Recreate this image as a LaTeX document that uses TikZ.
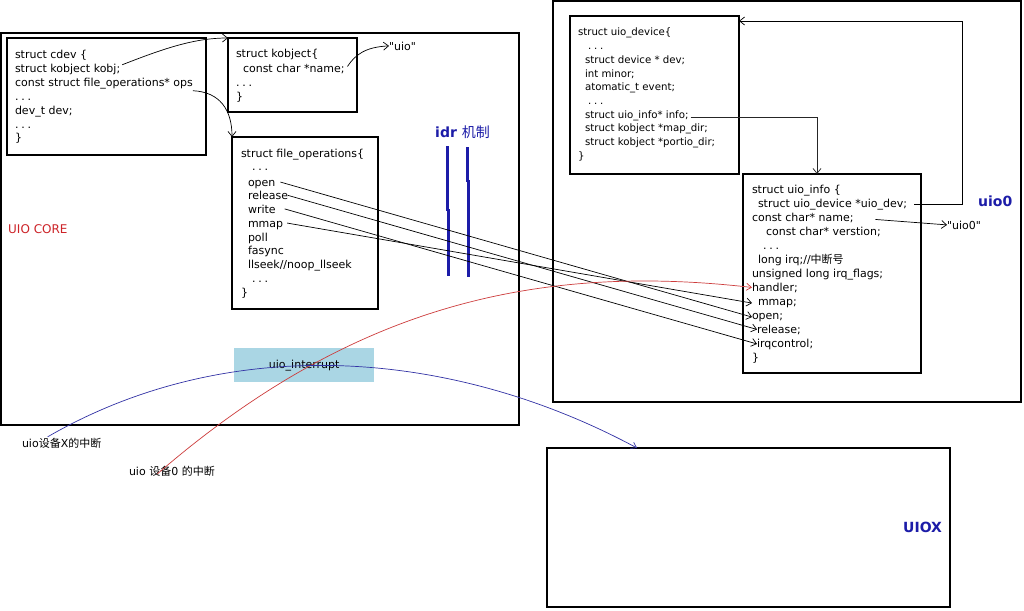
\documentclass[tikz,border=0pt]{standalone}
\usepackage{fontspec}
\setmainfont{DejaVu Sans}[Ligatures=TeXOff]
\newfontfamily\cjk{Noto Sans CJK SC}
\usetikzlibrary{arrows.meta}
\definecolor{idrblue}{RGB}{28,28,168}
\definecolor{corered}{RGB}{205,35,40}
\definecolor{intblue}{RGB}{170,214,228}
\definecolor{redline}{RGB}{205,60,60}
\definecolor{blueline}{RGB}{50,50,165}
\newcommand\mydots{.\hspace{2.8pt}.\hspace{2.8pt}.}
\begin{document}
\begin{tikzpicture}[x=1pt,y=-1pt,
  box/.style={draw, line width=1.8pt, anchor=north west, inner sep=0pt, outer sep=0pt},
  tl/.style={anchor=base west, inner sep=0pt, outer sep=0pt, font=\fontsize{11}{13}\selectfont},
  ts/.style={tl, font=\fontsize{10.2}{12}\selectfont},
  conn/.style={line width=0.7pt, -{Straight Barb[length=5pt,width=8pt]}},
  lbl/.style={anchor=base west, inner sep=0pt, font=\fontsize{14}{16}\selectfont\bfseries, text=idrblue}]

\fill[white] (0,0) rectangle (1024,610);
\useasboundingbox (0,0) rectangle (1024,610);

% ---------- boxes ----------
\node[box, minimum width=518pt, minimum height=392pt] (core) at (1,33) {};
\node[box, minimum width=199pt, minimum height=117pt] (cdev) at (7,38) {};
\node[box, minimum width=129pt, minimum height=74pt] (kob) at (228,38) {};
\node[box, minimum width=146pt, minimum height=172pt] (fo) at (232,137) {};
\node[fill=intblue, anchor=north west, inner sep=0pt, minimum width=140pt, minimum height=34pt,
      font=\fontsize{11}{13}\selectfont] (uint) at (234,348) {uio\_interrupt};
\node[box, minimum width=468pt, minimum height=401pt] (uiobox) at (553,1) {};
\node[box, minimum width=169pt, minimum height=158pt] (dev) at (570,16) {};
\node[box, minimum width=178pt, minimum height=199pt] (ui) at (743,174) {};
\node[box, minimum width=403pt, minimum height=159pt] (uiox) at (547,448) {};

% ---------- cdev ----------
\node[tl] (c1) at (15,59) {struct cdev \{};
\node[tl] (c2) at (15,72.8) {struct kobject kobj;};
\node[tl] (c3) at (15,86.6) {const struct file\_operations* ops};
\node[tl] (c4) at (15,100.4) {\mydots};
\node[tl] (c5) at (15,114.2) {dev\_t dev;};
\node[tl] (c6) at (15,128) {\mydots};
\node[tl] (c7) at (15,141.8) {\}};

% ---------- kobject ----------
\node[tl] (k1) at (236,58) {struct kobject\{};
\node[tl] (k2) at (243,72) {const char *name;};
\node[tl] (k3) at (236,86) {\mydots};
\node[tl] (k4) at (236,100) {\}};
\node[tl] (uiostr) at (389,50) {"uio"};

% ---------- file_operations ----------
\node[tl] (f1) at (241,157) {struct file\_operations\{};
\node[tl] (f2) at (252,170) {\mydots};
\node[tl] (f3) at (248,186) {open};
\node[tl] (f4) at (248,199.5) {release};
\node[tl] (f5) at (248,213) {write};
\node[tl] (f6) at (248,227) {mmap};
\node[tl] (f7) at (248,241) {poll};
\node[tl] (f8) at (248,254.5) {fasync};
\node[tl] (f9) at (248,268) {llseek//noop\_llseek};
\node[tl] (f10) at (252,282) {\mydots};
\node[tl] (f11) at (241,296) {\}};

% ---------- labels ----------
\node[lbl] (idr) at (435,137) {idr {\cjk\mdseries 机制}};
\node[anchor=base west, inner sep=0pt, font=\fontsize{12}{14}\selectfont, text=corered] (corelbl) at (8,233.5) {UIO CORE};
\node[lbl] (uio0lbl) at (978,206) {uio0};
\node[lbl] (uioxlbl) at (903,532) {UIOX};
\node[tl] (labX) at (22,447.5) {uio{\cjk 设备}X{\cjk 的中断}};
\node[tl] (lab0) at (129,475) {uio {\cjk 设备}0 {\cjk 的中断}};

% ---------- uio_device ----------
\node[ts] (d1) at (578,36) {struct uio\_device\{};
\node[ts] (d2) at (588,49.7) {\mydots};
\node[ts] (d3) at (585,63.4) {struct device * dev;};
\node[ts] (d4) at (585,77.1) {int minor;};
\node[ts] (d5) at (585,90.8) {atomatic\_t event;};
\node[ts] (d6) at (588,104.5) {\mydots};
\node[ts] (d7) at (585,118.2) {struct uio\_info* info;};
\node[ts] (d8) at (585,131.9) {struct kobject *map\_dir;};
\node[ts] (d9) at (585,145.6) {struct kobject *portio\_dir;};
\node[ts] (d10) at (578,159.3) {\}};

% ---------- uio_info ----------
\node[tl] (i1) at (752,193) {struct uio\_info \{};
\node[tl] (i2) at (758,207) {struct uio\_device *uio\_dev;};
\node[tl] (i3) at (752,221) {const char* name;};
\node[tl] (i4) at (766,235) {const char* verstion;};
\node[tl] (i5) at (763,249) {\mydots};
\node[tl] (i6) at (758,263) {long irq;//{\cjk 中断号}};
\node[tl] (i7) at (752,277) {unsigned long irq\_flags;};
\node[tl] (i8) at (752,291) {handler;};
\node[tl] (i9) at (758,305) {mmap;};
\node[tl] (i10) at (752,319) {open;};
\node[tl] (i11) at (757,333) {release;};
\node[tl] (i12) at (757,347) {irqcontrol;};
\node[tl] (i13) at (752,361) {\}};
\node[tl] (uio0str) at (947,229) {"uio0"};

% ---------- idr bars ----------
\draw[idrblue, line width=3.5pt] (447.5,146) -- (447.5,211);
\draw[idrblue, line width=3.5pt] (448.5,209) -- (448.5,276);
\draw[idrblue, line width=3.5pt] (467.5,147) -- (467.5,182);
\draw[idrblue, line width=3.5pt] (468.5,180) -- (468.5,277);

% ---------- connectors ----------
\coordinate (loopR) at (962,21);
\draw[conn] ([xshift=2pt,yshift=5pt]c2.east) .. controls (165,48) and (195,38) .. (kob.north west);
\draw[conn] ([yshift=-7pt]c3.east) .. controls (220,92) and (232,110) .. (fo.north west);
\draw[conn] ([xshift=3pt,yshift=2pt]k2.east) .. controls (355,55) and (365,47) .. (uiostr.west);
\draw[conn, black!85] ([xshift=2pt,yshift=-2pt]d7.east) -| ([xshift=-15pt]ui.north);
\draw[conn] ([xshift=7pt]i2.east) -| (loopR) -- ([yshift=-5pt]dev.north east);
\draw[conn] ([xshift=22pt,yshift=-2pt]i3.east) -- (uio0str.west);

\draw[conn] ([xshift=5pt,yshift=2pt]f3.east) -- (i10.west);
\draw[conn] (f4.east) -- (i11.west);
\draw[conn] ([xshift=9pt]f5.east) -- (i12.west);
\draw[conn] ([xshift=4pt,yshift=2pt]f6.east) -- ([xshift=-6pt]i9.west);

\draw[redline, line width=0.7pt, -{Straight Barb[length=5pt,width=7pt]}]
  ([xshift=-14.5pt,yshift=-3pt]lab0.center) .. controls (347,310) and (530,262) .. (i8.west);
\draw[blueline, line width=0.7pt, -{Straight Barb[length=5pt,width=7pt]}]
  ([xshift=-14pt,yshift=6.5pt]labX.center) .. controls (229,332) and (452,348.5) .. ([xshift=90pt]uiox.north west);
\end{tikzpicture}
\end{document}
